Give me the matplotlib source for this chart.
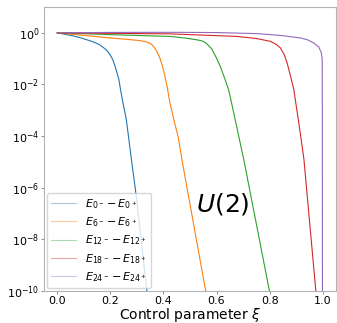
import numpy as np
import matplotlib
matplotlib.use('Agg')
import matplotlib.pyplot as plt

# curves (xi, log10 of the gap)
xi_0 = [0.0, 0.058, 0.09, 0.121, 0.14, 0.159, 0.175, 0.19, 0.2, 0.209, 0.217, 0.225, 0.232,
        0.238, 0.245, 0.26, 0.279, 0.298, 0.336, 0.345]
gap_0 = [0.0, -0.115, -0.2, -0.30, -0.37, -0.46, -0.58, -0.72, -0.87, -1.04, -1.27, -1.55, -1.81,
         -2.18, -2.58, -3.35, -4.88, -6.36, -9.88, -10.6]

xi_6 = [0.0, 0.1, 0.2, 0.25, 0.31, 0.336, 0.35, 0.361, 0.374, 0.386, 0.396, 0.405, 0.415, 0.424,
        0.44, 0.456, 0.469, 0.557, 0.565]
gap_6 = [0.0, -0.1, -0.2, -0.24, -0.30, -0.35, -0.41, -0.5, -0.7, -0.96, -1.28, -1.65, -2.15, -2.7,
         -3.4, -4.05, -4.88, -9.88, -10.3]

xi_12 = [0.0, 0.2, 0.424, 0.48, 0.525, 0.54, 0.55, 0.563, 0.57, 0.582, 0.588, 0.6, 0.614, 0.63,
         0.645, 0.652, 0.702, 0.797, 0.805]
gap_12 = [0.0, -0.07, -0.14, -0.2, -0.27, -0.30, -0.33, -0.42, -0.5, -0.62, -0.75, -0.98, -1.3, -1.75,
          -2.19, -2.5, -4.88, -9.88, -10.3]

xi_18 = [0.0, 0.2, 0.424, 0.55, 0.677, 0.75, 0.803, 0.825, 0.841, 0.855, 0.866, 0.878, 0.891,
         0.91, 0.929, 0.973, 0.977]
gap_18 = [0.0, -0.02, -0.04, -0.09, -0.14, -0.22, -0.33, -0.45, -0.59, -0.85, -1.17, -1.65, -2.19,
          -3.5, -4.88, -9.88, -10.3]

xi_24 = [0.0, 0.2, 0.424, 0.6, 0.75, 0.841, 0.917, 0.945, 0.967, 0.985, 0.994, 0.998, 0.9985, 0.999]
gap_24 = [0.0, 0.015, 0.02, 0.01, -0.03, -0.10, -0.20, -0.28, -0.40, -0.55, -0.75, -1.0, -3.0, -11.0]

labels = [r'$E_{0^-}-E_{0^+}$', r'$E_{6^-}-E_{6^+}$', r'$E_{12^-}-E_{12^+}$',
          r'$E_{18^-}-E_{18^+}$', r'$E_{24^-}-E_{24^+}$']
series = [(xi_0, gap_0), (xi_6, gap_6), (xi_12, gap_12), (xi_18, gap_18), (xi_24, gap_24)]

fig = plt.figure(figsize=(3.37, 3.23), dpi=100)
ax = fig.add_axes([44/337, 1-291/323, 292/337, 284/323])

for (x, g), lab in zip(series, labels):
    ax.plot(x, 10**np.array(g), lw=0.8, label=lab)

ax.set_yscale('log')
ax.set_xlim(-0.05, 1.05)
ax.set_ylim(1e-10, 1e1)
ax.set_yticks([1e0, 1e-2, 1e-4, 1e-6, 1e-8, 1e-10])
ax.minorticks_off()
ax.tick_params(labelsize=8, length=2, width=0.6, color='0.5', pad=1.5)
for s in ax.spines.values():
    s.set_color('0.7')
ax.set_xlabel(r'Control parameter $\xi$', fontsize=10, labelpad=0)

ax.text(0.613, 0.305, r'$U(2)$', transform=ax.transAxes, fontsize=18, ha='center', va='center')

leg = ax.legend(loc='lower left', fontsize=8, handlelength=2.2, borderaxespad=0.25,
                labelspacing=0.4)
for h in leg.get_lines():
    h.set_alpha(0.4)

plt.savefig('out.png', dpi=100)
